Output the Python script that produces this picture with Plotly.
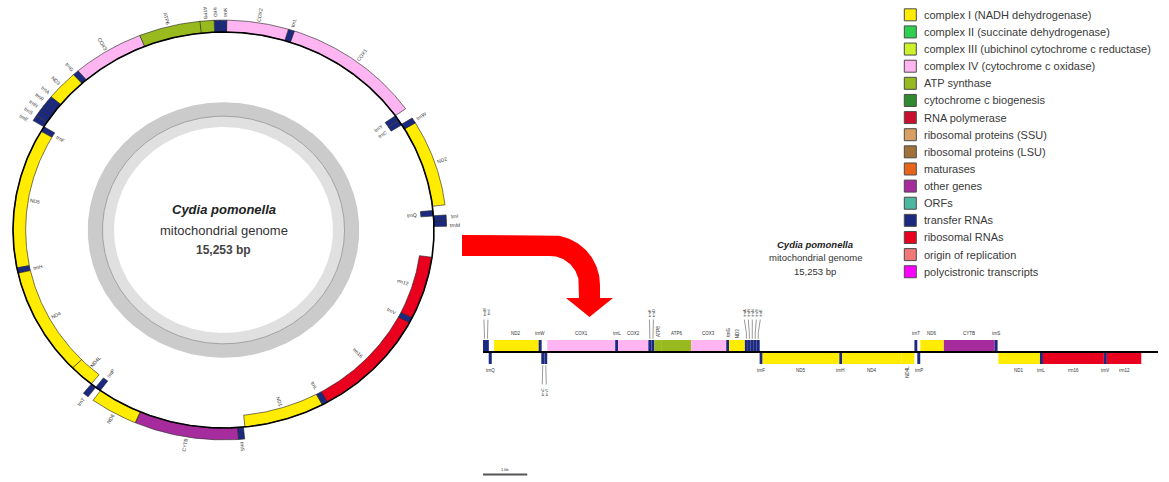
import numpy as np
import plotly.graph_objects as go

# ---------------------------------------------------------------- data
GENOME_LEN = 15253
SPECIES = "Cydia pomonella"
MOLECULE = "mitochondrial genome"
SCALE_BAR_BP = 1000
SCALE_BAR_LABEL = "1 kb"

gene_labels = ["trnM", "trnI", "trnQ", "ND2", "trnW", "trnC", "trnY", "COX1", "trnL",
               "COX2", "trnK", "trnD", "ATP8", "ATP6", "COX3", "trnG", "ND3", "trnA",
               "trnR", "trnN", "trnS", "trnE", "trnF", "ND5", "trnH", "ND4", "ND4L",
               "trnT", "trnP", "ND6", "CYTB", "trnS", "ND1", "trnL", "rrn16", "trnV",
               "rrn12"]
gene_starts = [1, 69, 130, 250, 1259, 1318, 1386, 1453, 2988,
               3055, 3737, 3808, 3874, 4029, 4706, 5497, 5563, 5918,
               5986, 6052, 6119, 6188, 6252, 6319, 8053, 8119, 9457,
               9750, 9815, 9883, 10414, 11563, 11646, 12586, 12654, 14031,
               14098]
gene_ends = [68, 132, 198, 1260, 1325, 1382, 1451, 2987, 3054,
             3736, 3807, 3873, 4035, 4706, 5494, 5562, 5916, 5985,
             6050, 6118, 6185, 6253, 6318, 8052, 8118, 9457, 9747,
             9814, 9880, 10410, 11562, 11628, 12584, 12653, 14030, 14097,
             14875]
# +1: heavy strand (outside the circle, above the line); -1: light strand
gene_strands = [1, 1, -1, 1, 1, -1, -1, 1, 1,
                1, 1, 1, 1, 1, 1, 1, 1, 1,
                1, 1, 1, 1, -1, -1, -1, -1, -1,
                1, -1, 1, 1, 1, -1, -1, -1, -1,
                -1]
gene_classes = ["trna", "trna", "trna", "nad", "trna", "trna", "trna", "cox", "trna",
                "cox", "trna", "trna", "atp", "atp", "cox", "trna", "nad", "trna",
                "trna", "trna", "trna", "trna", "trna", "nad", "trna", "nad", "nad",
                "trna", "trna", "nad", "other", "trna", "nad", "trna", "rrna", "trna",
                "rrna"]

legend_labels = ["complex I (NADH dehydrogenase)",
                 "complex II (succinate dehydrogenase)",
                 "complex III (ubichinol cytochrome c reductase)",
                 "complex IV (cytochrome c oxidase)",
                 "ATP synthase",
                 "cytochrome c biogenesis",
                 "RNA polymerase",
                 "ribosomal proteins (SSU)",
                 "ribosomal proteins (LSU)",
                 "maturases",
                 "other genes",
                 "ORFs",
                 "transfer RNAs",
                 "ribosomal RNAs",
                 "origin of replication",
                 "polycistronic transcripts"]
legend_colors = ["#FFEC00", "#2FD050", "#CCF02A", "#FFB5F2", "#99BA1E", "#2F8A2F",
                 "#C8102E", "#D9A066", "#A0723A", "#E8641A", "#A62C9E", "#4DB8A0",
                 "#1B2A80", "#E8001E", "#F07878", "#FF00FF"]
CLASS_TO_LEGEND = {"nad": 0, "cox": 3, "atp": 4, "other": 10, "trna": 12, "rrna": 13}

# ---------------------------------------------------------------- frame
FIG_W, FIG_H = 1169, 482
FONT = "Liberation Sans, Arial, Helvetica, sans-serif"
INK = "#333333"

# circular map (pixel centre and radii of the genome circle)
CX, CY, RX, RY = 223.5, 230.0, 210.5, 198.0
START_DEG = 89.0
BAND = 0.06
CIRC_FS = 5

# linear map
LIN_X0, LIN_X1, LIN_Y, LIN_UNIT = 483.0, 1158.0, 352.0, 12.0
PX_PER_BP = (LIN_X1 - LIN_X0) / GENOME_LEN
LIN_FS = 4.5

# legend rows
LEG_Y0, LEG_DY, LEG_X = 14.8, 17.13, 910.3

n_genes = len(gene_labels)
gene_colors = [legend_colors[CLASS_TO_LEGEND[c]] for c in gene_classes]

fig = go.Figure()


def add_poly(x, y, color, axes, line_color=None, line_width=0):
    fig.add_trace(go.Scatter(
        x=x, y=y, mode="lines", fill="toself", fillcolor=color,
        line=dict(color=line_color or color, width=line_width),
        xaxis=axes[0], yaxis=axes[1], hoverinfo="skip", showlegend=False))


def add_line(x, y, color, width, axes):
    fig.add_trace(go.Scatter(
        x=x, y=y, mode="lines", line=dict(color=color, width=width),
        xaxis=axes[0], yaxis=axes[1], hoverinfo="skip", showlegend=False))


def add_text(x, y, text, size, axes, angle=0, color=INK, xanchor="center"):
    fig.add_annotation(x=x, y=y, text=text, showarrow=False, textangle=angle,
                       xref=axes[0], yref=axes[1], xanchor=xanchor, yanchor="middle",
                       font=dict(family=FONT, size=size, color=color))


# groups of adjacent tRNAs on the same strand share stacked labels
clusters, cur = [], []
for i in range(n_genes):
    joins = (cur and gene_classes[i] == "trna" and cur[-1] == i - 1
             and gene_strands[cur[-1]] == gene_strands[i]
             and gene_starts[i] - gene_ends[cur[-1]] < 40)
    if joins:
        cur.append(i)
    else:
        if cur:
            clusters.append(cur)
        cur = [i] if gene_classes[i] == "trna" else []
if cur:
    clusters.append(cur)
cluster_of = {}
for cl in clusters:
    for k, i in enumerate(cl):
        cluster_of[i] = (cl, k)

# ---------------------------------------------------------------- circular map
CIRC = ("x", "y")


def deg_at(bp):
    return START_DEG - np.asarray(bp, dtype=float) * 360.0 / GENOME_LEN


def polar_xy(deg, r):
    a = np.radians(deg)
    return r * np.sin(a), r * np.cos(a)


full = np.linspace(0, 360, 721)
# GC content ring
for r, col in [(0.645, "#cbcbcb"), (0.575, "#e0e0e0"), (0.52, "#ffffff")]:
    gx, gy = polar_xy(full, r)
    add_poly(gx, gy, col, CIRC)
gx, gy = polar_xy(full, 0.575)
add_line(gx, gy, "#8c8c8c", 0.7, CIRC)

for i in range(n_genes):
    d0, d1 = deg_at(gene_starts[i] - 1), deg_at(gene_ends[i])
    m = max(4, int(abs(d1 - d0) * 3) + 2)
    ds = np.linspace(d0, d1, m)
    r_lo, r_hi = (1.0, 1.0 + BAND) if gene_strands[i] > 0 else (1.0 - BAND, 1.0)
    xo, yo = polar_xy(ds, r_hi)
    xi, yi = polar_xy(ds[::-1], r_lo)
    add_poly(np.concatenate([xo, xi, xo[:1]]), np.concatenate([yo, yi, yo[:1]]),
             gene_colors[i], CIRC, line_color="#202020", line_width=0.6)

bx, by = polar_xy(full, 1.0)
add_line(bx, by, "#000000", 1.6, CIRC)

for i in range(n_genes):
    if i in cluster_of:
        cl, k = cluster_of[i]
        mid = 0.5 * (gene_starts[cl[0]] + gene_ends[cl[-1]])
        deg = float(deg_at(mid)) - (k - (len(cl) - 1) / 2) * 2.3
    else:
        deg = float(deg_at(0.5 * (gene_starts[i] + gene_ends[i])))
    deg = (deg + 180.0) % 360.0 - 180.0
    half = len(gene_labels[i]) * 0.55 * CIRC_FS / 2 / RX
    r = 1.0 + BAND + 0.015 + half if gene_strands[i] > 0 else 1.0 - BAND - 0.015 - half
    lx, ly = polar_xy(deg, r)
    angle = deg - 90 if deg >= 0 else deg + 90
    add_text(float(lx), float(ly), gene_labels[i], CIRC_FS, CIRC, angle=angle)

add_text(0, (CY - 209) / RY, f"<b><i>{SPECIES}</i></b>", 13, CIRC, color="#222222")
add_text(0, (CY - 230) / RY, MOLECULE, 13, CIRC, color="#333333")
add_text(0, (CY - 250) / RY, f"<b>{GENOME_LEN:,} bp</b>", 12, CIRC, color="#444444")

# ---------------------------------------------------------------- linear map
LIN = ("x2", "y2")
for i in range(n_genes):
    s, e = gene_starts[i] - 1, gene_ends[i]
    y0, y1 = (0.0, 1.0) if gene_strands[i] > 0 else (-1.0, 0.0)
    add_poly([s, e, e, s, s], [y0, y0, y1, y1, y0], gene_colors[i], LIN)
add_line([0, GENOME_LEN], [0, 0], "#000000", 2, LIN)

label_gap_bp = 4.0 / PX_PER_BP
for i in range(n_genes):
    sgn = gene_strands[i]
    mid = 0.5 * (gene_starts[i] + gene_ends[i])
    half = len(gene_labels[i]) * 0.55 * LIN_FS / 2 / LIN_UNIT
    if i in cluster_of and len(cluster_of[i][0]) > 1:
        cl, k = cluster_of[i]
        cmid = 0.5 * (gene_starts[cl[0]] + gene_ends[cl[-1]])
        lx = cmid + (k - (len(cl) - 1) / 2) * label_gap_bp
        add_line([mid, mid, lx], [sgn * 1.1, sgn * 1.6, sgn * 2.7], "#555555", 0.6, LIN)
        add_text(lx, sgn * (2.9 + half), gene_labels[i], LIN_FS - 0.5, LIN, angle=-90)
    elif gene_ends[i] - gene_starts[i] < 400 and gene_classes[i] != "trna" \
            or gene_classes[i] == "trna" and gene_labels[i] == "trnG":
        add_text(mid, sgn * (1.25 + half), gene_labels[i], LIN_FS, LIN, angle=-90)
    else:
        add_text(mid, sgn * 1.55, gene_labels[i], LIN_FS, LIN)

bar_y = (LIN_Y - 474.5) / LIN_UNIT
add_line([0, SCALE_BAR_BP], [bar_y, bar_y], "#555555", 2.2, LIN)
add_text(SCALE_BAR_BP / 2, bar_y + 0.45, SCALE_BAR_LABEL, 4, LIN)

# ---------------------------------------------------------------- legend
LEG = ("x3", "y3")
rows = list(range(len(legend_labels)))
fig.add_trace(go.Scatter(
    x=[LEG_X] * len(rows), y=rows, mode="markers",
    marker=dict(symbol="square", size=12, color=legend_colors,
                line=dict(color="#4a4a4a", width=1)),
    xaxis=LEG[0], yaxis=LEG[1], hoverinfo="skip", showlegend=False))
for r, lab in zip(rows, legend_labels):
    add_text(LEG_X + 11.7, r, lab, 11, LEG, color="#3a3a3a", xanchor="left")

# ---------------------------------------------------------------- arrow and linear title
PIX = ("x4", "y4")
arc_cx, arc_cy, r_out, r_in = 550.0, 285.0, 50.0, 29.0
tail_x, head_y, head_half, tip_y = 462.0, 298.0, 23.5, 317.0
a = np.radians(np.linspace(-90, 0, 40))
ox, oy = arc_cx + r_out * np.cos(a), arc_cy + r_out * np.sin(a)
ix, iy = arc_cx + r_in * np.cos(a[::-1]), arc_cy + r_in * np.sin(a[::-1])
mid_x = arc_cx + 0.5 * (r_out + r_in)
ax_ = np.concatenate([[tail_x], ox, [arc_cx + r_out, mid_x + head_half, mid_x,
                                     mid_x - head_half, arc_cx + r_in], ix, [tail_x, tail_x]])
ay_ = np.concatenate([[arc_cy - r_out], oy, [head_y, head_y, tip_y, head_y, head_y],
                      iy, [arc_cy - r_in, arc_cy - r_out]])
add_poly(ax_, ay_, "#FF0000", PIX)

add_text(815, 244, f"<b><i>{SPECIES}</i></b>", 9.5, PIX, color="#222222")
add_text(815, 257.5, MOLECULE, 9.5, PIX)
add_text(815, 271, f"{GENOME_LEN:,} bp", 9.5, PIX)

# ---------------------------------------------------------------- axes
hidden = dict(visible=False, showgrid=False, zeroline=False, fixedrange=True, domain=[0, 1])
fig.update_layout(
    width=FIG_W, height=FIG_H, autosize=False,
    margin=dict(l=0, r=0, t=0, b=0, pad=0),
    paper_bgcolor="white", plot_bgcolor="rgba(0,0,0,0)",
    showlegend=False, hovermode=False,
    xaxis=dict(hidden, range=[-CX / RX, (FIG_W - CX) / RX], anchor="y"),
    yaxis=dict(hidden, range=[(CY - FIG_H) / RY, CY / RY], anchor="x"),
    xaxis2=dict(hidden, range=[-LIN_X0 / PX_PER_BP, (FIG_W - LIN_X0) / PX_PER_BP], anchor="y2"),
    yaxis2=dict(hidden, range=[(LIN_Y - FIG_H) / LIN_UNIT, LIN_Y / LIN_UNIT], anchor="x2"),
    xaxis3=dict(hidden, range=[0, FIG_W], anchor="y3"),
    yaxis3=dict(hidden, range=[(FIG_H - LEG_Y0) / LEG_DY, -LEG_Y0 / LEG_DY], anchor="x3"),
    xaxis4=dict(hidden, range=[0, FIG_W], anchor="y4"),
    yaxis4=dict(hidden, range=[FIG_H, 0], anchor="x4"),
)

fig.write_html("out.html", config={"displayModeBar": False, "staticPlot": True})
